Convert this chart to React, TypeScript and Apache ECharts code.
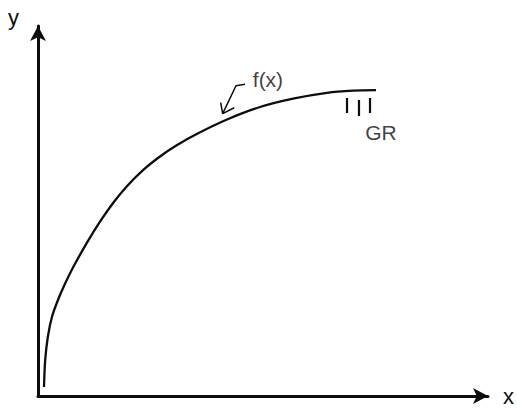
import React, { useEffect, useRef } from "react";
import * as echarts from "echarts";

// Curve f(x) (data units: axis spans 0..100 on both axes)
const curveX = [1.33, 1.6, 2.18, 3.11, 4.44, 6.0, 7.78, 10.82, 13.78, 16.73, 19.71, 23.4, 27.11, 30.82, 35.27, 42.0, 49.33, 56.67, 64.22, 70.0, 75.11];
const curveY = [2.43, 9.73, 15.95, 21.43, 25.95, 30.32, 34.73, 41.32, 47.11, 52.22, 56.62, 61.11, 64.73, 67.76, 70.81, 74.73, 78.11, 80.38, 81.95, 82.51, 82.65];

// Leader line from the "f(x)" label to the curve
const leaderX = [46.0, 44.0, 41.04];
const leaderY = [84.24, 83.86, 76.3];
// Open arrowhead at the end of the leader
const headX = [40.6, 41.04, 43.62];
const headY = [79.27, 76.3, 77.9];

// Three short vertical marks near the curve end (GR)
const grTickX = [68.67, 71.33, 73.78];
const grTickTop = [80.54, 80.0, 80.54];
const grTickBottom = [76.49, 75.68, 76.49];

// Text labels
const labelTexts = ["f(x)", "GR"];
const labelX = [51.1, 76.2];
const labelY = [85.6, 71.35];

const axisNames = ["x", "y"];

const INK = "#0d0d0d";
const FONT = "Liberation Sans, Arial, sans-serif";

export default function App() {
  const ref = useRef<HTMLDivElement>(null);

  useEffect(() => {
    if (!ref.current) return;
    const chart = echarts.init(ref.current, null, { renderer: "svg" });

    const zip = (xs: number[], ys: number[]) => xs.map((x, i) => [x, ys[i]]);

    const tickSeries = grTickX.map((x, i) => ({
      type: "line",
      data: [
        [x, grTickTop[i]],
        [x, grTickBottom[i]],
      ],
      symbol: "none",
      silent: true,
      lineStyle: { color: INK, width: 2.2 },
    }));

    chart.setOption({
      animation: false,
      backgroundColor: "#ffffff",
      grid: { left: 38, right: 29, top: 26, bottom: 14, containLabel: false },
      xAxis: {
        type: "value",
        min: 0,
        max: 100,
        name: axisNames[0],
        nameLocation: "end",
        nameGap: 15,
        nameTextStyle: {
          color: INK,
          fontSize: 22,
          fontFamily: FONT,
          align: "left",
          verticalAlign: "middle",
          padding: [12, 0, 0, 0],
        },
        axisLine: {
          show: true,
          symbol: ["none", "arrow"],
          symbolSize: [12, 15],
          lineStyle: { color: INK, width: 3 },
        },
        axisTick: { show: false },
        axisLabel: { show: false },
        splitLine: { show: false },
      },
      yAxis: {
        type: "value",
        min: 0,
        max: 100,
        name: axisNames[1],
        nameLocation: "end",
        nameGap: 9,
        nameTextStyle: {
          color: INK,
          fontSize: 22,
          fontFamily: FONT,
          align: "right",
          verticalAlign: "middle",
          padding: [0, 19, 0, 0],
        },
        axisLine: {
          show: true,
          onZero: false,
          symbol: ["none", "arrow"],
          symbolSize: [12, 15],
          lineStyle: { color: INK, width: 3 },
        },
        axisTick: { show: false },
        axisLabel: { show: false },
        splitLine: { show: false },
      },
      series: [
        {
          type: "line",
          data: zip(curveX, curveY),
          smooth: 0.3,
          symbol: "none",
          silent: true,
          lineStyle: { color: INK, width: 2.3 },
        },
        {
          type: "line",
          data: zip(leaderX, leaderY),
          symbol: "none",
          silent: true,
          lineStyle: { color: INK, width: 1.5 },
        },
        {
          type: "line",
          data: zip(headX, headY),
          symbol: "none",
          silent: true,
          lineStyle: { color: INK, width: 1.5 },
        },
        ...tickSeries,
        {
          type: "scatter",
          data: labelTexts.map((t, i) => ({ value: [labelX[i], labelY[i]], name: t })),
          symbolSize: 1,
          silent: true,
          itemStyle: { color: "rgba(0,0,0,0)" },
          label: {
            show: true,
            position: "inside",
            formatter: (p: any) => p.name,
            color: INK,
            fontSize: 21,
            fontFamily: FONT,
          },
        },
      ],
    });

    return () => chart.dispose();
  }, []);

  return (
    <div
      ref={ref}
      style={{ position: "fixed", left: 0, top: 0, width: 517, height: 410, background: "#fff" }}
    />
  );
}
